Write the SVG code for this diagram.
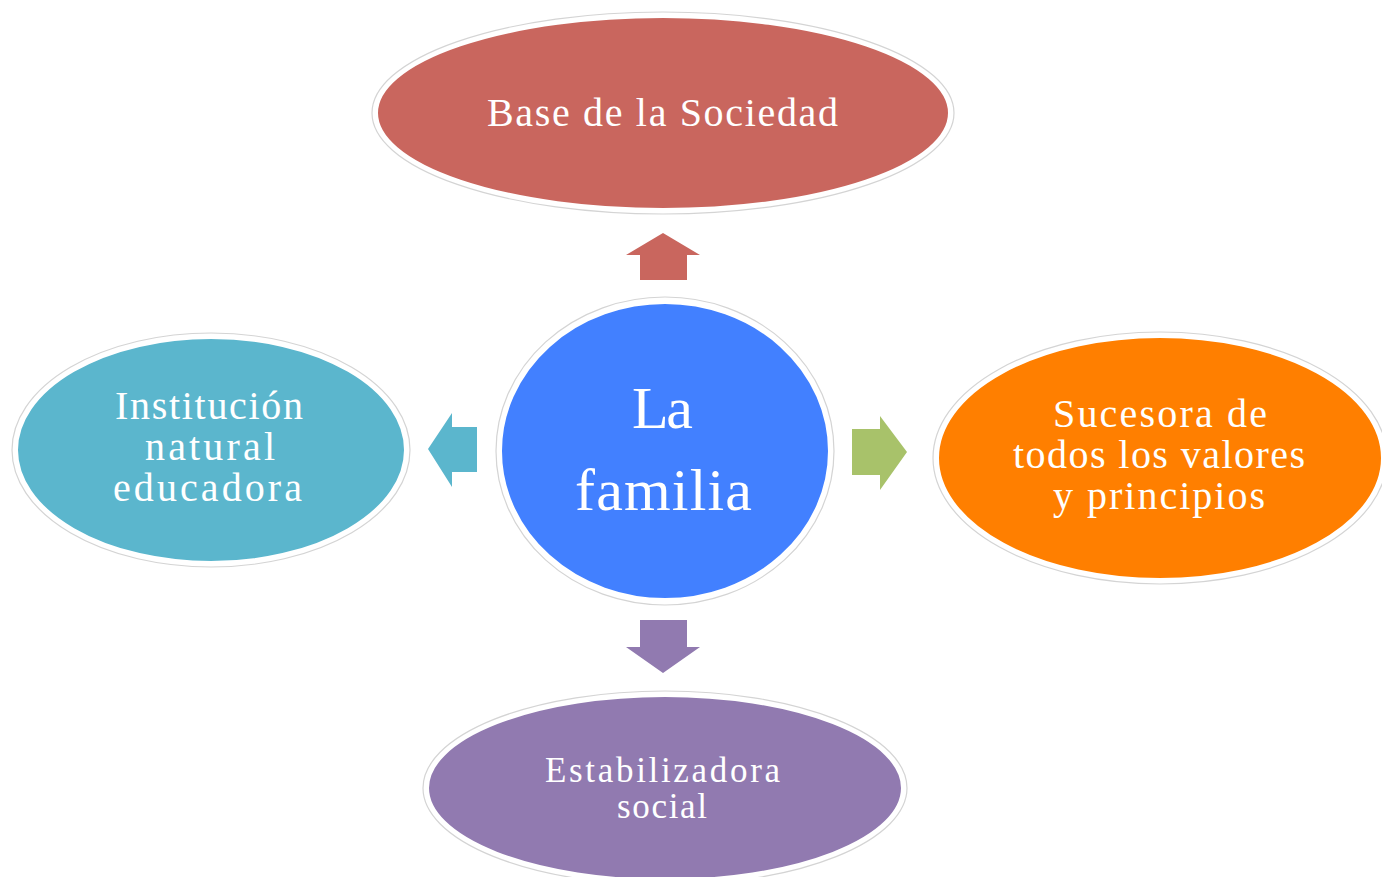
<svg xmlns="http://www.w3.org/2000/svg" width="1382" height="877" viewBox="0 0 1382 877">
<style>
.fill{stroke:#ffffff;stroke-width:4}
.ring{fill:none;stroke:#d4d4d4;stroke-width:1.2}
.t{font-family:"Liberation Serif","Times New Roman",serif;fill:#ffffff;text-anchor:middle}
.s40{font-size:40px}
.s35{font-size:35px}
.s60{font-size:60px}
</style>
<rect width="1382" height="877" fill="#ffffff"/>
<g id="connectors">
<polygon points="663,233 700,255 687,255 687,280 640,280 640,255 626,255" fill="#C9665E"/>
<polygon points="428,449 452,413 452,427 477,427 477,472 452,472 452,487" fill="#5BB6CD"/>
<polygon points="907,452 880,416 880,429 852,429 852,475 880,475 880,490" fill="#A8C26A"/>
<polygon points="663,673 700,647 687,647 687,620 640,620 640,647 626,647" fill="#917AB0"/>
</g>
<g id="base">
<ellipse class="ring" cx="663" cy="113" rx="291" ry="101"/>
<ellipse class="fill" cx="663" cy="113" rx="287" ry="97" fill="#C9665E"/>
<text class="t s40" x="662.5" y="126" textLength="351" lengthAdjust="spacing">Base de la Sociedad</text>
</g>
<g id="familia">
<ellipse class="ring" cx="665" cy="451" rx="169" ry="154"/>
<ellipse class="fill" cx="665" cy="451" rx="165" ry="149" fill="#4280FF"/>
<text class="t s60" x="662.5" y="428" textLength="61" lengthAdjust="spacing">La</text>
<text class="t s60" x="663.5" y="510" textLength="177" lengthAdjust="spacing">familia</text>
</g>
<g id="institucion">
<ellipse class="ring" cx="211" cy="450" rx="199" ry="117"/>
<ellipse class="fill" cx="211" cy="450" rx="195" ry="113" fill="#5BB6CD"/>
<text class="t s40" x="209" y="419" textLength="188" lengthAdjust="spacing">Institución</text>
<text class="t s40" x="210" y="460" textLength="130" lengthAdjust="spacing">natural</text>
<text class="t s40" x="207.5" y="501" textLength="189" lengthAdjust="spacing">educadora</text>
</g>
<g id="sucesora">
<ellipse class="ring" cx="1160" cy="458" rx="227" ry="126"/>
<ellipse class="fill" cx="1160" cy="458" rx="223" ry="122" fill="#FF7F00"/>
<text class="t s40" x="1160" y="427" textLength="214" lengthAdjust="spacing">Sucesora de</text>
<text class="t s40" x="1159" y="468" textLength="292" lengthAdjust="spacing">todos los valores</text>
<text class="t s40" x="1159" y="509" textLength="212" lengthAdjust="spacing">y principios</text>
</g>
<g id="estabilizadora">
<ellipse class="ring" cx="665" cy="788" rx="242" ry="97"/>
<ellipse class="fill" cx="665" cy="788" rx="238" ry="93" fill="#917AB0"/>
<text class="t s35" x="662.5" y="782" textLength="235" lengthAdjust="spacing">Estabilizadora</text>
<text class="t s35" x="662" y="818" textLength="90" lengthAdjust="spacing">social</text>
</g>
</svg>
